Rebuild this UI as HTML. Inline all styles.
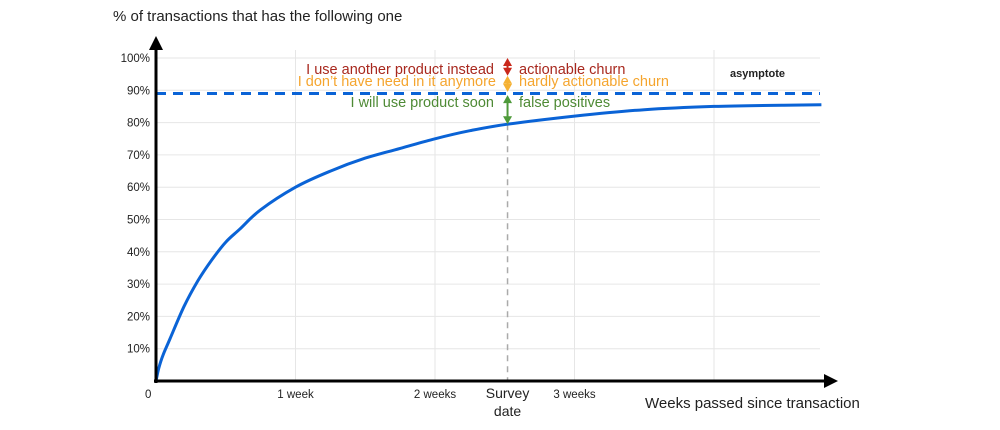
<!DOCTYPE html>
<html><head><meta charset="utf-8"><style>
body{margin:0;background:#fff;font-family:"Liberation Sans",sans-serif;}
svg{display:block}
</style></head><body>
<svg id="chart" width="1000" height="430">
<defs>
<marker id="ah" markerUnits="userSpaceOnUse" markerWidth="14" markerHeight="14" refX="4" refY="7" orient="auto"><path d="M0,0 L14,7 L0,14 z" fill="#000"/></marker>
</defs>
<g id="grid"></g>
<g id="marks"></g>
<text x="113" y="21" font-size="15" fill="#222">% of transactions that has the following one</text>
<text x="645" y="408" font-size="15" fill="#222">Weeks passed since transaction</text>
<text x="730" y="77" font-size="11" font-weight="bold" fill="#222">asymptote</text>
<g font-size="14.5">
<text x="494" y="74" text-anchor="end" fill="#a8281e">I use another product instead</text>
<text x="496" y="86" text-anchor="end" fill="#f5a52e">I don’t have need in it anymore</text>
<text x="494" y="107" text-anchor="end" fill="#4e8a35">I will use product soon</text>
<text x="519" y="74" fill="#a8281e">actionable churn</text>
<text x="519" y="86" fill="#f5a52e">hardly actionable churn</text>
<text x="519" y="107" fill="#4e8a35">false positives</text>
</g>
</svg>
<script>
const weeks=[0,0.02,0.05,0.1,0.2,0.3,0.4,0.5,0.6,0.75,1,1.25,1.5,1.75,2,2.25,2.52,3,3.5,4,4.5,4.77];
const values=[0,4,8,13,23,31,37.5,43,47,53,60,65,69,72,75,77.5,79.5,82,84,85,85.4,85.5];
const yTicks=[10,20,30,40,50,60,70,80,90,100];
const xTickWeeks=[1,2,3];
const xTickLabels=["1 week","2 weeks","3 weeks"];
const asymptote=89;
const surveyWeek=2.52;
const X0=156,Y0=381,PXW=139.5,PXP=3.23;
const sx=w=>X0+w*PXW, sy=v=>Y0-v*PXP;
const NS="http://www.w3.org/2000/svg";
function mk(p,t,a){const e=document.createElementNS(NS,t);for(const k in a)e.setAttribute(k,a[k]);p.appendChild(e);return e;}
const grid=document.getElementById('grid'),marks=document.getElementById('marks'),svg=document.getElementById('chart');
yTicks.forEach(v=>{
 const l=mk(grid,'line',{x1:X0,x2:820,y1:sy(v),y2:sy(v),stroke:'#e6e6e6','stroke-width':1});
 
 
 const t=mk(svg,'text',{x:150,y:sy(v)+4,'text-anchor':'end','font-size':11.5,fill:'#222'});t.textContent=v+'%';
 
 
});
[1,2,3,4].forEach(w=>{
 const l=mk(grid,'line',{x1:sx(w),x2:sx(w),y1:50,y2:Y0,stroke:'#e6e6e6','stroke-width':1});
 
 
});
xTickWeeks.forEach((w,i)=>{
 const t=mk(svg,'text',{x:sx(w),y:398,'text-anchor':'middle','font-size':11.5,fill:'#222'});t.textContent=xTickLabels[i];
 
 
});
const z=mk(svg,'text',{x:145,y:398,'font-size':11.5,fill:'#222'});z.textContent='0';


const s1=mk(svg,'text',{x:sx(surveyWeek),y:398,'text-anchor':'middle','font-size':14,fill:'#222'});s1.textContent='Survey';


const s2=mk(svg,'text',{x:sx(surveyWeek),y:416,'text-anchor':'middle','font-size':14,fill:'#222'});s2.textContent='date';


const sl=mk(marks,'line',{x1:sx(surveyWeek),x2:sx(surveyWeek),y1:sy(79.5),y2:Y0,stroke:'#aaa','stroke-width':1.5,'stroke-dasharray':'6,5'});


const as=mk(marks,'line',{x1:X0,x2:820,y1:sy(asymptote),y2:sy(asymptote),stroke:'#0a63d6','stroke-width':3,'stroke-dasharray':'10,7'});


// smooth curve via Catmull-Rom
const pts=weeks.map((w,i)=>[sx(w),sy(values[i])]);
let d='M'+pts[0][0]+','+pts[0][1];
for(let i=0;i<pts.length-1;i++){
 const p0=pts[Math.max(0,i-1)],p1=pts[i],p2=pts[i+1],p3=pts[Math.min(pts.length-1,i+2)];
 const c1=[p1[0]+(p2[0]-p0[0])/6,p1[1]+(p2[1]-p0[1])/6];
 const c2=[p2[0]-(p3[0]-p1[0])/6,p2[1]-(p3[1]-p1[1])/6];
 d+=`C${c1[0].toFixed(1)},${c1[1].toFixed(1)} ${c2[0].toFixed(1)},${c2[1].toFixed(1)} ${p2[0].toFixed(1)},${p2[1].toFixed(1)}`;
}
const c=mk(marks,'path',{d:d,fill:'none',stroke:'#0a63d6','stroke-width':3,'stroke-linejoin':'round'});


const sxv=sx(surveyWeek);
function arr(y1,y2,col,name){
 const g=mk(marks,'g',{});
 
 
 mk(g,'line',{x1:sxv,x2:sxv,y1:y1+5,y2:y2-5,stroke:col,'stroke-width':2});
 mk(g,'path',{d:`M${sxv-4.5},${y1+8}L${sxv},${y1}L${sxv+4.5},${y1+8}z`,fill:col});
 mk(g,'path',{d:`M${sxv-4.5},${y2-8}L${sxv},${y2}L${sxv+4.5},${y2-8}z`,fill:col});
}
arr(sy(100),sy(94.5),'#c9281b','arrow-actionable');
arr(sy(94.5),sy(89.5),'#f5b133','arrow-hardly');
arr(sy(88.5),sy(79.5),'#4e9a3a','arrow-false-positive');
const ya=mk(svg,'line',{x1:X0,x2:X0,y1:Y0+2,y2:46,stroke:'#000','stroke-width':3,'marker-end':'url(#ah)'});


const xa=mk(svg,'line',{x1:X0-2,x2:828,y1:Y0,y2:Y0,stroke:'#000','stroke-width':3,'marker-end':'url(#ah)'});


</script>
</body></html>
